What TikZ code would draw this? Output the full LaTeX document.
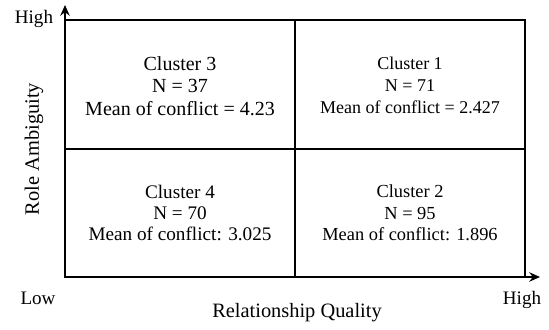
\documentclass[tikz,border=0pt]{standalone}
\usepackage{fontspec}
\setmainfont{Liberation Serif}
\usepackage{xcolor}
\usepackage{tikz}
\usetikzlibrary{arrows.meta}

\begin{document}
\begin{tikzpicture}[x=0.75pt, y=0.75pt, line width=1.5pt]
    \useasboundingbox (0, 0) rectangle (549, 329);
    \coordinate (O) at (65, 52);
    \coordinate (Ytop) at (65, 324);
    \coordinate (Xend) at (540, 52);
    {
      \draw (65, 180.5) rectangle (295, 309);
      \draw (295, 180.5) rectangle (525, 309);
    }
    {
      \draw (65, 52) rectangle (295, 180.5);
      \draw (295, 52) rectangle (525, 180.5);
    }
    \draw[-{Stealth[length=8pt, width=7pt]}] (O) -- (Ytop);
    \draw[-{Stealth[length=8pt, width=7pt]}] (O) -- (Xend);
    \node[align = center, font = \fontsize{15}{17}\selectfont] (C3) at (180, 243) {Cluster 3\\N = 37\\Mean of conflict = 4.23};
    \node[align = center, font = \fontsize{13.5}{16.5}\selectfont] (C1) at (410, 244) {Cluster 1\\N = 71\\Mean of conflict = 2.427};
    \node[align = center, font = \fontsize{14.4}{16}\selectfont] (C4) at (180, 116) {Cluster 4\\N = 70\\Mean of conflict: 3.025};
    \node[align = center, font = \fontsize{13.8}{16}\selectfont] (C2) at (410, 116) {Cluster 2\\N = 95\\Mean of conflict: 1.896};
    \node[font = \fontsize{14.3}{17}\selectfont] (YH) at (34, 310) {High};
    \node[font = \fontsize{14.3}{17}\selectfont] (XL) at (38, 31) {Low};
    \node[font = \fontsize{14.3}{17}\selectfont] (XH) at (522, 29) {High};
    \node[rotate = 90, font = \fontsize{15.3}{18}\selectfont] (YA) at (34, 180) {Role Ambiguity};
    \node[font = \fontsize{15.3}{18}\selectfont] (XA) at (297, 16) {Relationship Quality};
  \end{tikzpicture}
\end{document}
